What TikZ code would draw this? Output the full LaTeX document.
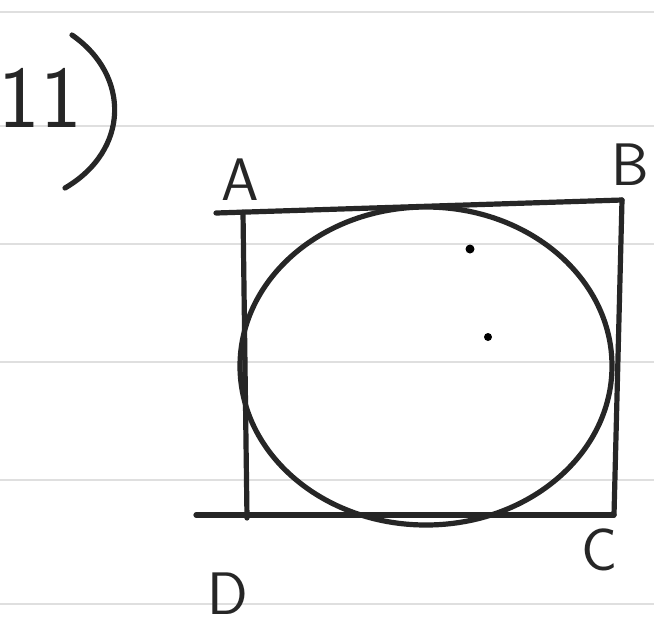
\documentclass[tikz,border=0pt]{standalone}
\begin{document}
\begin{tikzpicture}[x=0.5pt,y=-0.5pt,
  ink/.style={line width=2.6pt,black!85,line cap=round,line join=round},
  paper/.style={gray!25,line width=1pt},
  lbl/.style={font=\sffamily\fontsize{30}{32}\selectfont,black!85}]
\fill[white] (0,0) rectangle (654,629);
\useasboundingbox (0,0) rectangle (654,629);
% paper lines
\foreach \y in {12,126,244,362,480,604} \draw[paper] (0,\y) -- (654,\y);
% problem number
\node[lbl,font=\sffamily\fontsize{44}{46}\selectfont] (num) at (40,98) {11};
\draw[ink] (72,35) .. controls (130,75) and (130,150) .. (65,188);
% square corners
\coordinate (A) at (243,212);
\coordinate (B) at (622,200);
\coordinate (C) at (614,515);
\coordinate (D) at (247,518);
\coordinate (Aleft) at (216,213);
\coordinate (Dleft) at (196,515);
\draw[ink] (Aleft) -- (B);
\draw[ink] (A) -- (D);
\draw[ink] (B) -- (C);
\draw[ink] (Dleft) -- (C);
% inscribed circle
\draw[ink] (426,366) ellipse [x radius=186, y radius=159];
% dots
\fill (470,249) circle (4.5);
\fill (488,337) circle (4);
% labels
\node[lbl] (la) at (240,180) {A};
\node[lbl] (lb) at (630,165) {B};
\node[lbl] (lc) at (600,550) {C};
\node[lbl] (ld) at (228,594) {D};
\end{tikzpicture}
\end{document}
